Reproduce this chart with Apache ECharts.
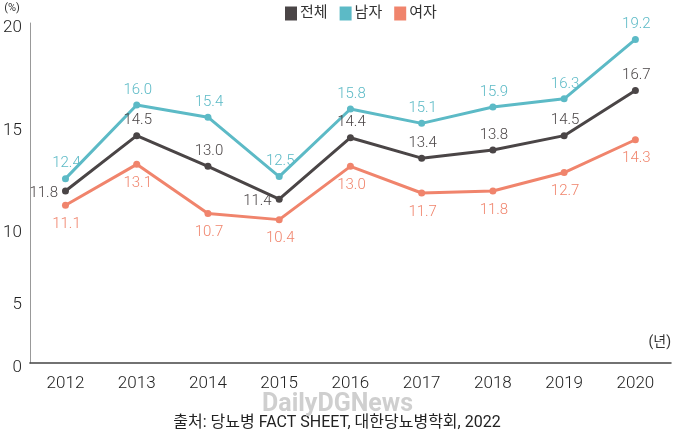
<!DOCTYPE html>
<html><head><meta charset="utf-8">
<script src="https://cdn.jsdelivr.net/npm/echarts@6/dist/echarts.min.js"></script>
<style>html,body{margin:0;padding:0;background:#fff}#c{width:674px;height:437px}</style>
</head><body><div id="c"></div>
<script>
var years = ['2012','2013','2014','2015','2016','2017','2018','2019','2020'];
var total = [11.8, 14.5, 13.0, 11.4, 14.4, 13.4, 13.8, 14.5, 16.7];
var male = [12.4, 16.0, 15.4, 12.5, 15.8, 15.1, 15.9, 16.3, 19.2];
var female = [11.1, 13.1, 10.7, 10.4, 13.0, 11.7, 11.8, 12.7, 14.3];
var seriesNames = ['전체', '남자', '여자'];
var yTickLabels = ['0', '5', '10', '15', '20'];
var yTickValues = [3.4, 6.5, 10, 15, 20];
var sourceText = '출처: 당뇨병 FACT SHEET, 대한당뇨병학회, 2022';
var watermark = 'DailyDGNews';

var FONT = "Roboto, 'Noto Sans CJK KR', sans-serif";
var C_TOTAL = '#4a4546', C_MALE = '#5cbac6', C_FEMALE = '#f0846c';
var totalLeft = [0, 3];

function mk(name, arr, color, pos, dist, leftIdx) {
  return {
    name: name, type: 'line', data: arr.map(function (v, i) {
      var it = { value: v };
      if (leftIdx && leftIdx.indexOf(i) >= 0) it.label = { position: 'left', distance: 4, offset: [0, 2] };
      return it;
    }),
    symbol: 'circle', symbolSize: 7, color: color,
    lineStyle: { width: 3, color: color },
    itemStyle: { color: color },
    label: { show: true, position: pos, distance: dist, color: color, fontSize: 15, fontFamily: FONT, fontWeight: 300,
      formatter: function (p) { return p.value.toFixed(1); }, offset: [1, 0] },
    emphasis: { disabled: true }, animation: false
  };
}

var chart = echarts.init(document.getElementById('c'), null, { renderer: 'canvas' });
chart.setOption({
  animation: false,
  textStyle: { fontFamily: FONT },
  title: [
    { text: sourceText, left: 'center', bottom: 1, textStyle: { fontSize: 16, fontWeight: 'normal', color: '#222', fontFamily: FONT } },
    { text: watermark, left: 257, top: 387, textStyle: { fontSize: 25, fontWeight: 'bold', color: '#cfcfcf', fontFamily: FONT } }
  ],
  legend: {
    data: seriesNames, left: 280, top: 1, icon: 'rect', itemWidth: 12, itemHeight: 14, itemGap: 12,
    textStyle: { fontSize: 15, color: '#333', fontFamily: FONT, padding: [0, 0, 0, -2] }
  },
  grid: { left: 26, right: -2, top: 23, bottom: 74, containLabel: false },
  xAxis: {
    type: 'category', data: years, boundaryGap: true,
    name: '(년)', nameLocation: 'end', nameGap: 0,
    nameTextStyle: { fontSize: 14, color: '#333', align: 'right', verticalAlign: 'bottom', padding: [0, 0, 14, 0] },
    axisLine: { lineStyle: { color: '#444', width: 1.5 } },
    axisTick: { show: false },
    axisLabel: { fontSize: 17, color: '#222', margin: 12, fontWeight: 300 }
  },
  yAxis: {
    type: 'value', min: 3.4, max: 20,
    name: '(%)', nameLocation: 'end', nameGap: 9,
    nameTextStyle: { fontSize: 11, color: '#333', align: 'right', padding: [0, 10, 0, 0] },
    axisLine: { show: true, lineStyle: { color: '#999', width: 1 } },
    axisTick: { show: false },
    splitLine: { show: false },
    axisLabel: {
      customValues: yTickValues, fontSize: 17, color: '#222', margin: 8, fontWeight: 300,
      verticalAlign: 'top', lineHeight: 10,
      formatter: function (v) { var i = yTickValues.indexOf(v); return i >= 0 ? yTickLabels[i] : ''; }
    }
  },
  series: [
    mk(seriesNames[0], total, C_TOTAL, 'top', 4, totalLeft),
    mk(seriesNames[1], male, C_MALE, 'top', 4),
    mk(seriesNames[2], female, C_FEMALE, 'bottom', 8)
  ]
});
</script></body></html>
